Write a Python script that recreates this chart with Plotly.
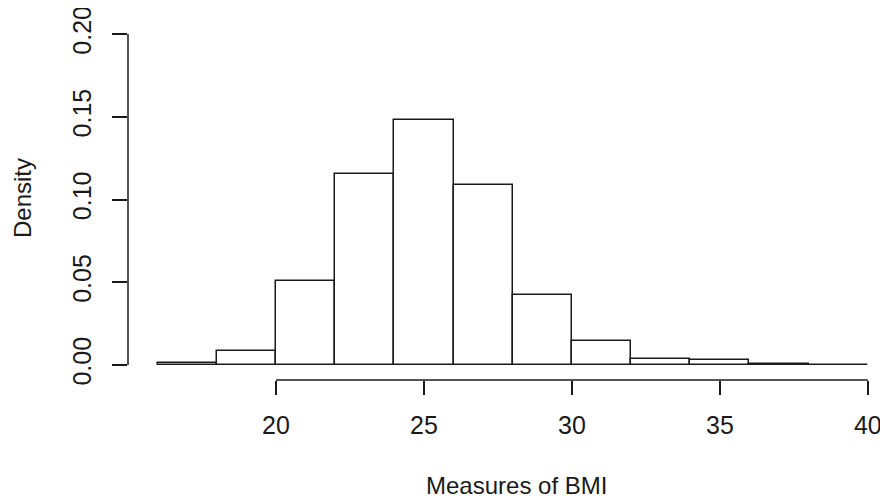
import plotly.graph_objects as go

# Histogram of BMI (density scale), bins of width 2
bin_edges = [16, 18, 20, 22, 24, 26, 28, 30, 32, 34, 36, 38, 40]
densities = [0.001, 0.0086, 0.0505, 0.1155, 0.148, 0.1085, 0.0425, 0.0145, 0.0038, 0.0028, 0.0008, 0.0001]
x_ticks = [20, 25, 30, 35, 40]
y_ticks = [0.00, 0.05, 0.10, 0.15, 0.20]
y_tick_labels = ["0.00", "0.05", "0.10", "0.15", "0.20"]
x_title = "Measures of BMI"
y_title = "Density"

centers = [(a + b) / 2 for a, b in zip(bin_edges[:-1], bin_edges[1:])]
widths = [b - a for a, b in zip(bin_edges[:-1], bin_edges[1:])]

FONT = "Liberation Sans, Arial, sans-serif"
INK = "#1a1a1a"

fig = go.Figure()
fig.add_trace(go.Bar(
    x=centers, y=densities, width=widths,
    marker=dict(color="white", line=dict(color=INK, width=1.5)),
    hoverinfo="x+y", showlegend=False,
))

# the page body adds an 8px offset, so the figure is sized 880x496
fig.update_layout(
    width=880, height=496,
    margin=dict(l=120, r=8, t=12, b=124, autoexpand=False),
    paper_bgcolor="white", plot_bgcolor="white",
    font=dict(family=FONT, size=25, color=INK),
    xaxis=dict(range=[15.0, 40.41], tickvals=x_ticks, ticks="outside", ticklen=14,
               tickwidth=1.5, tickcolor=INK, showline=False, showgrid=False,
               zeroline=False, ticklabelstandoff=9, ticklabeloverflow="allow",
               automargin=False),
    yaxis=dict(range=[-0.00906, 0.2085], tickvals=y_ticks, ticktext=y_tick_labels,
               ticks="outside", ticklen=15, tickwidth=1.5, tickcolor=INK,
               tickangle=-90, showline=False, showgrid=False, zeroline=False,
               ticklabelstandoff=11, ticklabeloverflow="allow", automargin=False),
    bargap=0,
)

# axis lines spanning the tick range, as in base R graphics
fig.add_shape(type="line", xref="x", yref="paper", x0=min(x_ticks), x1=max(x_ticks),
              y0=0, y1=0, line=dict(color=INK, width=1.5))
fig.add_shape(type="line", xref="paper", yref="y", x0=0, x1=0,
              y0=min(y_ticks), y1=max(y_ticks), line=dict(color=INK, width=1.5))

fig.add_annotation(text=x_title, xref="paper", yref="paper", x=0.516, y=0,
                   yshift=-105, showarrow=False, xanchor="center", yanchor="middle",
                   font=dict(size=24, color=INK, family=FONT))
fig.add_annotation(text=y_title, xref="paper", yref="paper", x=0, y=0.5,
                   xshift=-106, yshift=2, showarrow=False, textangle=-90,
                   xanchor="center", yanchor="middle",
                   font=dict(size=24, color=INK, family=FONT))

fig.write_html("out.html")
